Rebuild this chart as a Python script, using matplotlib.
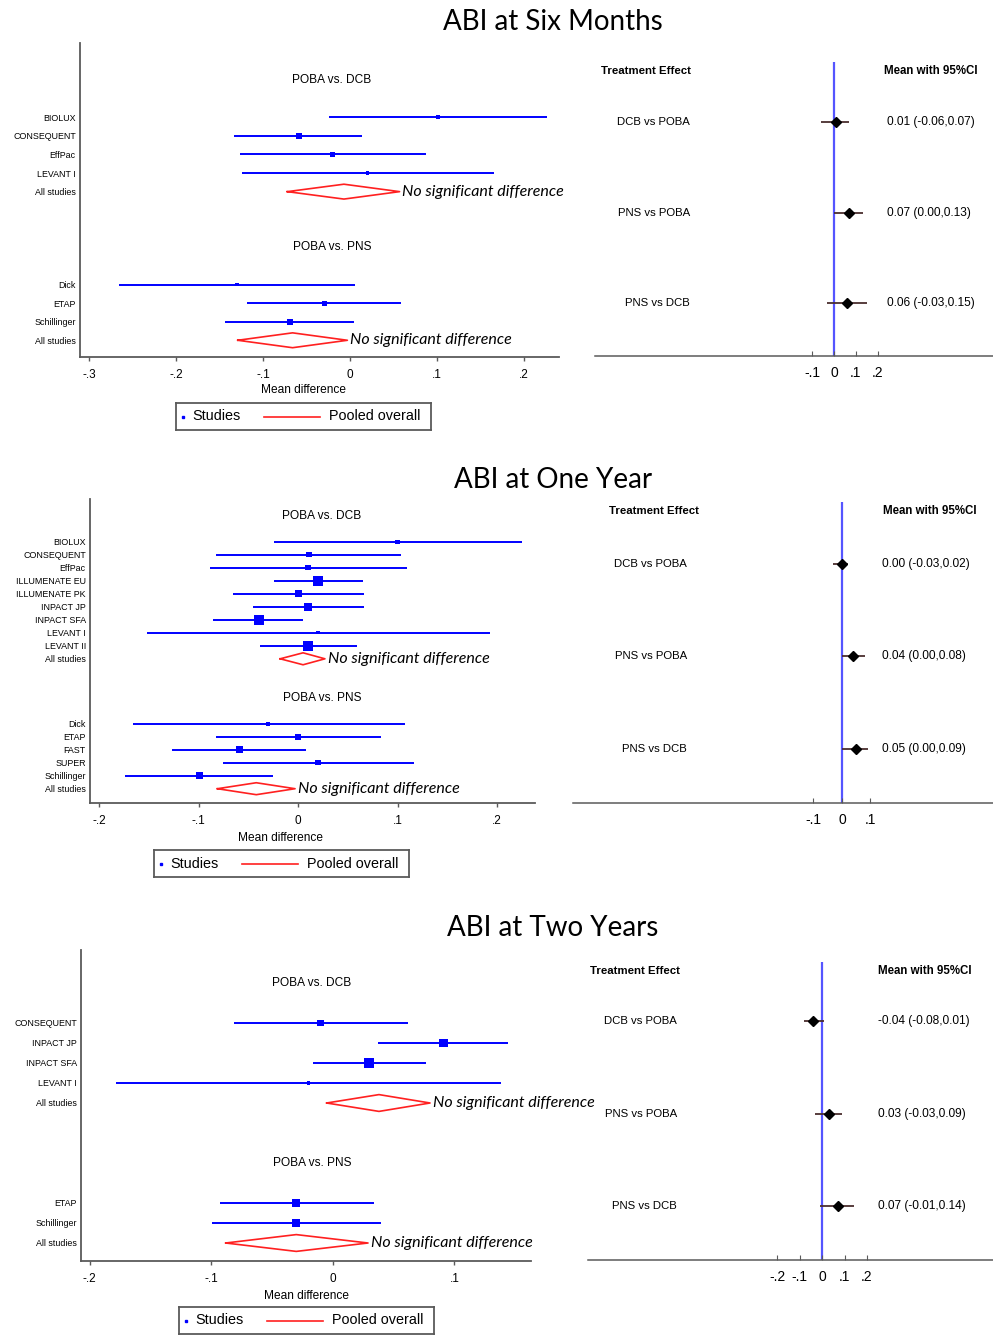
import numpy as np
import matplotlib
matplotlib.use("Agg")
import matplotlib.pyplot as plt

plt.rcParams["font.family"] = ["Liberation Sans", "DejaVu Sans"]

W, H = 993, 1335
BLUE = "#0000ff"
RED = "#ff2020"
GREY = "#5a5a5a"
NSD = "No significant difference"

# ── Data: ABI at six months ──────────────────────────────────────────────────
m6_dcb_names = ["BIOLUX", "CONSEQUENT", "EffPac", "LEVANT I"]
m6_dcb_est = [0.101, -0.059, -0.020, 0.020]
m6_dcb_lo = [-0.024, -0.133, -0.126, -0.124]
m6_dcb_hi = [0.226, 0.014, 0.087, 0.166]
m6_dcb_wt = [3.0, 5.0, 3.5, 3.0]
m6_dcb_pool = [-0.007, -0.072, 0.057]

m6_pns_names = ["Dick", "ETAP", "Schillinger"]
m6_pns_est = [-0.130, -0.029, -0.069]
m6_pns_lo = [-0.265, -0.118, -0.144]
m6_pns_hi = [0.006, 0.059, 0.005]
m6_pns_wt = [3.0, 4.0, 5.0]
m6_pns_pool = [-0.066, -0.129, -0.003]

m6_ticks = [-0.3, -0.2, -0.1, 0, 0.1, 0.2]
m6_ticklabels = ["-.3", "-.2", "-.1", "0", ".1", ".2"]

m6_nma_names = ["DCB vs POBA", "PNS vs POBA", "PNS vs DCB"]
m6_nma_mean = [0.01, 0.07, 0.06]
m6_nma_lo = [-0.06, 0.00, -0.03]
m6_nma_hi = [0.07, 0.13, 0.15]
m6_nma_ticks = [-0.1, 0, 0.1, 0.2]
m6_nma_ticklabels = ["-.1", "0", ".1", ".2"]

# ── Data: ABI at one year ────────────────────────────────────────────────────
y1_dcb_names = ["BIOLUX", "CONSEQUENT", "EffPac", "ILLUMENATE EU", "ILLUMENATE PK",
                "INPACT JP", "INPACT SFA", "LEVANT I", "LEVANT II"]
y1_dcb_est = [0.100, 0.011, 0.010, 0.020, 0.000, 0.010, -0.039, 0.020, 0.010]
y1_dcb_lo = [-0.024, -0.082, -0.088, -0.024, -0.065, -0.045, -0.085, -0.152, -0.038]
y1_dcb_hi = [0.225, 0.103, 0.109, 0.065, 0.066, 0.066, 0.005, 0.193, 0.059]
y1_dcb_wt = [3.5, 4.0, 4.0, 7.5, 5.5, 6.5, 8.0, 2.5, 7.5]
y1_dcb_pool = [0.005, -0.018, 0.027]

y1_pns_names = ["Dick", "ETAP", "FAST", "SUPER", "Schillinger"]
y1_pns_est = [-0.030, 0.000, -0.059, 0.020, -0.099]
y1_pns_lo = [-0.166, -0.082, -0.127, -0.075, -0.174]
y1_pns_hi = [0.107, 0.083, 0.008, 0.116, -0.025]
y1_pns_wt = [3.0, 5.0, 5.5, 4.0, 5.5]
y1_pns_pool = [-0.042, -0.081, -0.003]

y1_ticks = [-0.2, -0.1, 0, 0.1, 0.2]
y1_ticklabels = ["-.2", "-.1", "0", ".1", ".2"]

y1_nma_names = ["DCB vs POBA", "PNS vs POBA", "PNS vs DCB"]
y1_nma_mean = [0.00, 0.04, 0.05]
y1_nma_lo = [-0.03, 0.00, 0.00]
y1_nma_hi = [0.02, 0.08, 0.09]
y1_nma_ticks = [-0.1, 0, 0.1]
y1_nma_ticklabels = ["-.1", "0", ".1"]

# ── Data: ABI at two years ───────────────────────────────────────────────────
y2_dcb_names = ["CONSEQUENT", "INPACT JP", "INPACT SFA", "LEVANT I"]
y2_dcb_est = [-0.010, 0.091, 0.030, -0.020]
y2_dcb_lo = [-0.081, 0.037, -0.016, -0.178]
y2_dcb_hi = [0.062, 0.144, 0.077, 0.138]
y2_dcb_wt = [5.5, 7.0, 8.0, 3.0]
y2_dcb_pool = [0.038, -0.005, 0.080]

y2_pns_names = ["ETAP", "Schillinger"]
y2_pns_est = [-0.030, -0.030]
y2_pns_lo = [-0.093, -0.099]
y2_pns_hi = [0.034, 0.040]
y2_pns_wt = [6.5, 6.0]
y2_pns_pool = [-0.030, -0.088, 0.029]

y2_ticks = [-0.2, -0.1, 0, 0.1]
y2_ticklabels = ["-.2", "-.1", "0", ".1"]

y2_nma_names = ["DCB vs POBA", "PNS vs POBA", "PNS vs DCB"]
y2_nma_mean = [-0.04, 0.03, 0.07]
y2_nma_lo = [-0.08, -0.03, -0.01]
y2_nma_hi = [0.01, 0.09, 0.14]
y2_nma_ticks = [-0.2, -0.1, 0, 0.1, 0.2]
y2_nma_ticklabels = ["-.2", "-.1", "0", ".1", ".2"]


def box(x0, y0, x1, y1):
    # pixel box (top-left origin) -> figure fraction
    return [x0 / W, 1 - y1 / H, (x1 - x0) / W, (y1 - y0) / H]


def draw_pairwise(ax, groups, headers, xlim, ylim, ticks, ticklabels, head_x, dh, xlab):
    row = 0
    yt, yl = [], []
    for head, (names, est, lo, hi, wt, pool) in zip(headers, groups):
        ax.text(head_x, row, head, transform=ax.get_yaxis_transform(),
                ha="center", va="center", fontsize=8.6)
        rows = np.arange(len(names)) + row + 2
        ax.hlines(rows, lo, hi, color=BLUE, lw=1.4)
        ax.scatter(est, rows, marker="s", s=(np.array(wt) / 1.1) ** 2,
                   color=BLUE, lw=0, zorder=3)
        prow = rows[-1] + 1
        m, a, b = pool
        ax.plot([a, m, b, m, a], [prow, prow - dh, prow, prow + dh, prow],
                color=RED, lw=1.2)
        ax.annotate(NSD, (b, prow), xytext=(2, 0), textcoords="offset points",
                    va="center", ha="left", fontsize=11.5, style="italic",
                    family=["Lato", "DejaVu Sans"], annotation_clip=False, zorder=10)
        yt += list(rows) + [prow]
        yl += list(names) + ["All studies"]
        row = prow + 3
    ax.set_xlim(xlim)
    ax.set_ylim(ylim)
    ax.set_yticks(yt)
    ax.set_yticklabels(yl, fontsize=6.4)
    ax.tick_params(axis="y", length=0, pad=3)
    ax.set_xticks(ticks)
    ax.set_xticklabels(ticklabels, fontsize=8.5)
    ax.tick_params(axis="x", length=3, width=1, color=GREY, pad=6)
    for s in ["top", "right"]:
        ax.spines[s].set_visible(False)
    for s in ["left", "bottom"]:
        ax.spines[s].set_color(GREY)
        ax.spines[s].set_linewidth(1.3)
    ax.text(xlab[0], xlab[1], "Mean difference", transform=ax.transAxes,
            ha="center", va="center", fontsize=8.6)


def draw_nma(ax, names, mean, lo, hi, xlim, ylim, ticks, ticklabels, pos):
    lab_x, val_x, h1_x, h2_x, head_y = pos
    ax.patch.set_visible(False)
    rows = np.arange(len(names)) + 1
    ax.axvline(0, color="#5555ff", lw=1.6, zorder=1)
    ax.hlines(rows, lo, hi, color="#4a2e2e", lw=1.3, zorder=2)
    ax.plot(mean, rows, "D", color="black", ms=5.5, zorder=3)
    tr = ax.get_yaxis_transform()
    for r, n, m, a, b in zip(rows, names, mean, lo, hi):
        ax.text(lab_x, r, n, transform=tr, ha="right", va="center", fontsize=8.2)
        ax.text(val_x, r, f"{m:.2f} ({a:.2f},{b:.2f})", transform=tr,
                ha="left", va="center", fontsize=8.6)
    ax.text(h1_x, head_y, "Treatment Effect", transform=tr, ha="left",
            va="center", fontsize=8.2, weight="bold")
    ax.text(h2_x, head_y, "Mean with 95%CI", transform=tr, ha="right",
            va="center", fontsize=8.3, weight="bold")
    ax.set_xlim(xlim)
    ax.set_ylim(ylim)
    ax.set_yticks([])
    ax.set_xticks(ticks)
    ax.set_xticklabels(ticklabels, fontsize=10)
    ax.tick_params(axis="x", direction="in", length=3.6, color=GREY, pad=7)
    for s in ["top", "right", "left"]:
        ax.spines[s].set_visible(False)
    ax.spines["bottom"].set_color(GREY)
    ax.spines["bottom"].set_linewidth(1.1)


def draw_legend(x0, y0):
    lax = fig.add_axes(box(x0, y0, x0 + 255, y0 + 27))
    lax.set_xlim(0, 255)
    lax.set_ylim(0, 1)
    lax.set_xticks([])
    lax.set_yticks([])
    for s in lax.spines.values():
        s.set_color(GREY)
        s.set_linewidth(1.3)
    lax.plot([7], [0.5], "s", color=BLUE, ms=1.8)
    lax.text(16, 0.5, "Studies", va="center", ha="left", fontsize=10.4)
    lax.plot([88, 144], [0.5, 0.5], color=RED, lw=1.2)
    lax.text(153, 0.5, "Pooled overall", va="center", ha="left", fontsize=10.4)


fig = plt.figure(figsize=(W / 100, H / 100), dpi=100)
title_kw = dict(ha="center", va="center", fontsize=20, family=["Lato", "DejaVu Sans"])
heads = ["POBA vs. DCB", "POBA vs. PNS"]

# Six months
fig.text(553 / W, 1 - 22 / H, "ABI at Six Months", **title_kw)
ax_r = fig.add_axes(box(595, 62, 993, 356))
draw_nma(ax_r, m6_nma_names, m6_nma_mean, m6_nma_lo, m6_nma_hi, (-1.086, 0.723),
         (3.585, 0.337), m6_nma_ticks, m6_nma_ticklabels, (0.239, 0.734, 0.015, 0.960, 0.436))
ax = fig.add_axes(box(80, 43, 559, 357))
ax.patch.set_visible(False)
draw_pairwise(ax,
              [(m6_dcb_names, m6_dcb_est, m6_dcb_lo, m6_dcb_hi, m6_dcb_wt, m6_dcb_pool),
               (m6_pns_names, m6_pns_est, m6_pns_lo, m6_pns_hi, m6_pns_wt, m6_pns_pool)],
              heads, (-0.3103, 0.2402), (14.9, -2.0), m6_ticks, m6_ticklabels, 0.526, 0.4,
              (0.466, -0.105))
draw_legend(176, 403)

# One year
fig.text(553 / W, 1 - 480 / H, "ABI at One Year", **title_kw)
ax_r = fig.add_axes(box(573, 502, 993, 803))
draw_nma(ax_r, y1_nma_names, y1_nma_mean, y1_nma_lo, y1_nma_hi, (-0.944, 0.530),
         (3.584, 0.33), y1_nma_ticks, y1_nma_ticklabels, (0.271, 0.736, 0.086, 0.960, 0.427))
ax = fig.add_axes(box(90, 499, 535, 803))
ax.patch.set_visible(False)
draw_pairwise(ax,
              [(y1_dcb_names, y1_dcb_est, y1_dcb_lo, y1_dcb_hi, y1_dcb_wt, y1_dcb_pool),
               (y1_pns_names, y1_pns_est, y1_pns_lo, y1_pns_hi, y1_pns_wt, y1_pns_pool)],
              heads, (-0.209, 0.238), (22.1, -1.3), y1_ticks, y1_ticklabels, 0.521, 0.46,
              (0.429, -0.115))
draw_legend(154, 850)

# Two years
fig.text(553 / W, 1 - 928 / H, "ABI at Two Years", **title_kw)
ax_r = fig.add_axes(box(588, 962, 993, 1260))
draw_nma(ax_r, y2_nma_names, y2_nma_mean, y2_nma_lo, y2_nma_hi, (-1.04, 0.76),
         (3.58, 0.36), y2_nma_ticks, y2_nma_ticklabels, (0.220, 0.716, 0.005, 0.946, 0.46))
ax = fig.add_axes(box(81, 950, 531, 1261))
ax.patch.set_visible(False)
draw_pairwise(ax,
              [(y2_dcb_names, y2_dcb_est, y2_dcb_lo, y2_dcb_hi, y2_dcb_wt, y2_dcb_pool),
               (y2_pns_names, y2_pns_est, y2_pns_lo, y2_pns_hi, y2_pns_wt, y2_pns_pool)],
              heads, (-0.207, 0.163), (13.9, -1.65), y2_ticks, y2_ticklabels, 0.513, 0.42,
              (0.502, -0.1125))
draw_legend(179, 1307)

fig.savefig("out.png", dpi=100)
